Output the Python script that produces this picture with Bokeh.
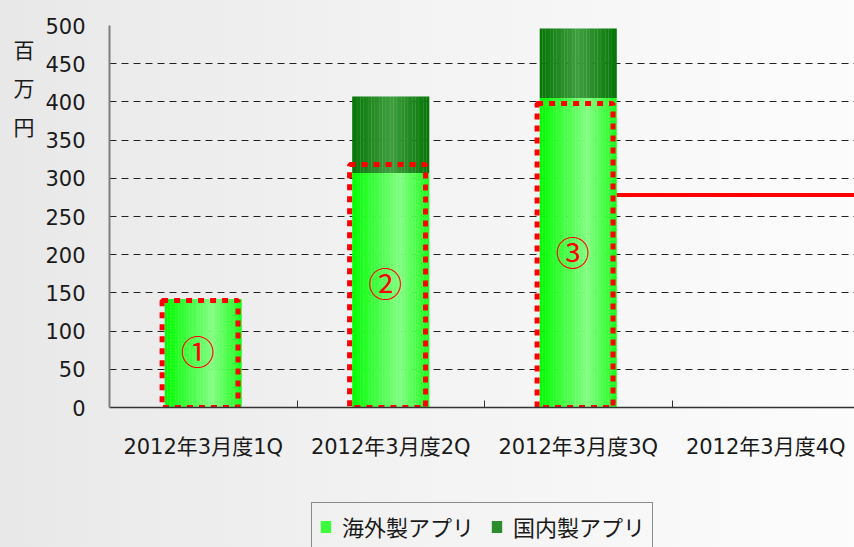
import numpy as np
from bokeh.plotting import figure
from bokeh.layouts import column
from bokeh.models import Range1d, FixedTicker, Legend, LegendItem, ColumnDataSource, LinearAxis
from bokeh.core.properties import value
from bokeh.embed import file_html
from bokeh.resources import INLINE

# ---- data ----
categories = ["2012年3月度1Q", "2012年3月度2Q", "2012年3月度3Q", "2012年3月度4Q"]
overseas = [142, 307, 405]          # 海外製アプリ
domestic = [0, 100, 91]             # 国内製アプリ
series_names = ["海外製アプリ", "国内製アプリ"]
y_ticks = [0, 50, 100, 150, 200, 250, 300, 350, 400, 450, 500]
highlight_tops = [140, 318, 398]    # red dotted boxes
highlight_marks = ["①", "②", "③"]
mark_y = [74, 163, 204]
target_value = 278
y_unit = ["百", "万", "円"]
y_unit_at = [469, 419, 369]

# ---- styling ----
FONT = "DejaVu Sans, Noto Sans CJK JP"
BG = {"background": "linear-gradient(to right, #e8e8e8 0%, #f3f3f3 50%, #fcfcfc 100%)"}
CAT_PX = 187.5
FRAME_W = 745
bar_w = 0.41
x_end = FRAME_W / CAT_PX

p = figure(width=854, height=495, x_range=Range1d(0, x_end), y_range=Range1d(0, 500),
           output_backend="svg", toolbar_location=None,
           min_border_left=109, min_border_right=0, min_border_top=25, min_border_bottom=88)
p.background_fill_color = None
p.border_fill_color = None
p.outline_line_color = None

# gradient bars built from strips
N = 28
def profile(t, peak, right):
    return np.where(t < peak, t / peak, 1 - (1 - right) * (t - peak) / (1 - peak))

def mix(lo, hi, f):
    return "#%02x%02x%02x" % tuple(int(round(a + (b - a) * f)) for a, b in zip(lo, hi))

t = (np.arange(N) + 0.5) / N
f_light = profile(t, 0.62, 0.2)
f_dark = profile(t, 0.5, 0.0)
light_cols = [mix((0, 255, 0), (130, 255, 130), v) for v in f_light]
dark_cols = [mix((6, 118, 6), (62, 158, 62), v) for v in f_dark]

xs, l_top, d_bot, d_top, lc, dc = [], [], [], [], [], []
for i in range(len(overseas)):
    c = i + 0.5
    for k in range(N):
        xs.append(c - bar_w / 2 + (k + 0.5) * bar_w / N)
        l_top.append(overseas[i])
        d_bot.append(overseas[i])
        d_top.append(overseas[i] + domestic[i])
        lc.append(light_cols[k])
        dc.append(dark_cols[k])
src = ColumnDataSource(dict(x=xs, lt=l_top, db=d_bot, dt=d_top, lc=lc, dc=dc))
sw = bar_w / N * 1.08
p.vbar(x="x", bottom=0, top="lt", width=sw, fill_color="lc", line_color=None, source=src)
p.vbar(x="x", bottom="db", top="dt", width=sw, fill_color="dc", line_color=None, source=src)

# red dotted highlight boxes
box_c = [i + 0.483 for i in range(len(highlight_tops))]
p.quad(left=[c - 0.2025 for c in box_c], right=[c + 0.2025 for c in box_c],
       bottom=0, top=highlight_tops, fill_color=None, line_color="#ff0000",
       line_width=5, line_dash="6 6")

# target line
p.line(x=[2.5 + bar_w / 2, x_end], y=[target_value, target_value], line_color="#ff0000", line_width=4)

# circled numbers
p.text(x=[i + 0.47 for i in range(len(highlight_marks))], y=mark_y, text=highlight_marks,
       text_font=value("Noto Sans CJK JP"), text_font_size="34px", text_color="#ff0000",
       text_align="center", text_baseline="middle")

# axes
p.xaxis.ticker = FixedTicker(ticks=[i + 0.5 for i in range(len(categories))],
                             minor_ticks=[1, 2, 3])
p.xaxis.major_label_overrides = {i + 0.5: c for i, c in enumerate(categories)}
p.xaxis.major_tick_line_color = None
p.xaxis.minor_tick_in = 7
p.xaxis.minor_tick_out = 0
p.xaxis.minor_tick_line_color = "#333333"
p.xaxis.axis_line_color = "#333333"
p.xaxis.axis_line_width = 1.5
p.xaxis.major_label_standoff = 21
p.xgrid.visible = False

p.yaxis.ticker = FixedTicker(ticks=y_ticks)
p.yaxis.major_tick_line_color = None
p.yaxis.minor_tick_line_color = None
p.yaxis.axis_line_color = "#7f7f7f"
p.yaxis.axis_line_width = 2
p.yaxis.major_label_standoff = 18

for ax in (p.xaxis, p.yaxis):
    ax.major_label_text_font = FONT
    ax.major_label_text_font_size = "21px"
    ax.major_label_text_color = "#1a1a1a"

# unit label "百万円" stacked vertically, as a label-only axis
unit_axis = LinearAxis(ticker=FixedTicker(ticks=y_unit_at),
                       major_label_overrides={v: ch for v, ch in zip(y_unit_at, y_unit)},
                       axis_line_color=None, major_tick_line_color=None,
                       minor_tick_line_color=None, major_label_standoff=2,
                       major_label_text_font="Noto Sans CJK JP",
                       major_label_text_font_size="21px", major_label_text_color="#1a1a1a")
p.add_layout(unit_axis, "left")

p.ygrid.grid_line_color = "#222222"
p.ygrid.grid_line_dash = "7 5"
p.ygrid.grid_line_width = 1

# ---- legend strip (own small figure below the chart) ----
lf = figure(width=854, height=52, x_range=Range1d(0, 1), y_range=Range1d(0, 1),
            output_backend="svg", toolbar_location=None,
            x_axis_location=None, y_axis_location=None,
            min_border_left=109, min_border_right=0, min_border_top=0, min_border_bottom=0)
lf.background_fill_color = None
lf.border_fill_color = None
lf.outline_line_color = None
lf.xgrid.visible = False
lf.ygrid.visible = False
# legend swatches (zero-height bars, only their colours are used by the legend)
r_light = lf.vbar(x=[0.5], bottom=[0], top=[0], width=0.0, fill_color="#3cff3c", line_color=None)
r_dark = lf.vbar(x=[0.5], bottom=[0], top=[0], width=0.0, fill_color="#2a8c2a", line_color=None)

legend = Legend(items=[LegendItem(label=series_names[0], renderers=[r_light]),
                       LegendItem(label=series_names[1], renderers=[r_dark])],
                location=(202, -3), orientation="horizontal", margin=0, padding=7,
                spacing=16, label_standoff=10, glyph_width=13, glyph_height=15,
                label_text_font="Noto Sans CJK JP", label_text_font_size="22px",
                label_text_color="#1a1a1a", border_line_color="#222222", border_line_width=1,
                background_fill_alpha=0)
lf.add_layout(legend)

layout = column(p, lf, spacing=0, styles=BG)
open("out.html", "w").write(file_html(layout, INLINE))
